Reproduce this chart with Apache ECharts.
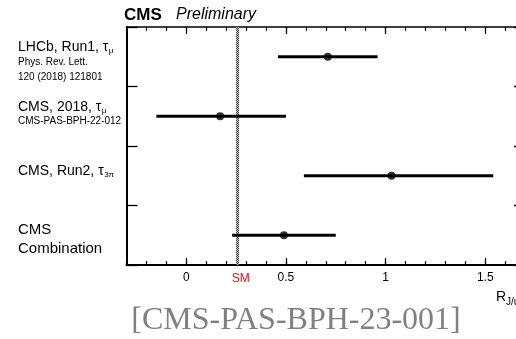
<!DOCTYPE html>
<html>
<head>
<meta charset="utf-8">
<script src="https://cdn.jsdelivr.net/npm/echarts@6/dist/echarts.min.js"></script>
<style>
  html, body { margin: 0; padding: 0; background: #fff; }
  #chart { width: 516px; height: 339px; }
</style>
</head>
<body>
<div id="chart"></div>
<script>
// R(J/psi) measurements: central values with total uncertainty ranges
const categories = ['LHCb, Run1', 'CMS, 2018', 'CMS, Run2', 'CMS Combination'];
const central = [0.71, 0.17, 1.03, 0.49];
const lower = [0.46, -0.15, 0.59, 0.23];
const upper = [0.96, 0.50, 1.54, 0.75];
const smLow = 0.250;
const smHigh = 0.265;
const smValue = 0.258;
const tickLabels = [0, 0.5, 1, 1.5];

// Full frame range (minor ticks every 0.1) and the labelled range (major ticks every 0.5)
const frameMin = -0.3, frameMax = 1.7, minorStep = 0.1;
const majorMin = 0, majorMax = 1.5, majorStep = 0.5;

// Row captions: main line (with Greek subscript) and reference lines
const rowTitles = ['LHCb, Run1, τ', 'CMS, 2018, τ', 'CMS, Run2, τ', 'CMS'];
const rowSubs = ['μ', 'μ', '3π', ''];
const rowNotes = [['Phys. Rev. Lett.', '120 (2018) 121801'], ['CMS-PAS-BPH-22-012'], [], ['Combination']];

const FONT = 'Liberation Sans, Arial, Helvetica, sans-serif';
const PX_PER_UNIT = 199.3;
const FRAME_LEFT = 126.5, FRAME_TOP = 27, FRAME_H = 238;

const chart = echarts.init(document.getElementById('chart'), null, { renderer: 'canvas' });

function frameX(position, lineWidth) {
  return {
    type: 'value', gridIndex: 0, position: position, min: frameMin, max: frameMax, interval: minorStep,
    axisLine: { show: true, onZero: false, lineStyle: { color: '#000', width: lineWidth } },
    axisTick: { show: true, inside: true, length: 4, lineStyle: { color: '#000', width: 1.2 } },
    axisLabel: { show: false },
    splitLine: { show: false }
  };
}
function majorX(position, showLabel) {
  return {
    type: 'value', gridIndex: 1, position: position, min: majorMin, max: majorMax, interval: majorStep,
    axisLine: { show: false, onZero: false },
    axisTick: { show: true, inside: true, length: 7, lineStyle: { color: '#000', width: 1.2 } },
    axisLabel: showLabel
      ? { show: true, color: '#000', fontSize: 12, fontFamily: FONT, margin: 7, showMinLabel: true, showMaxLabel: true }
      : { show: false },
    splitLine: { show: false }
  };
}
function catY(position) {
  return {
    type: 'category', gridIndex: 0, position: position, data: categories, inverse: true,
    axisLine: { show: true, onZero: false, lineStyle: { color: '#000', width: 2 } },
    axisTick: { show: true, inside: true, length: 11, lineStyle: { color: '#000', width: 1.3 } },
    axisLabel: { show: false },
    splitLine: { show: false }
  };
}

const option = {
  animation: false,
  grid: [
    { left: FRAME_LEFT, top: FRAME_TOP, width: (frameMax - frameMin) * PX_PER_UNIT, height: FRAME_H,
      containLabel: false, outerBoundsMode: 'none' },
    { left: FRAME_LEFT + (majorMin - frameMin) * PX_PER_UNIT, top: FRAME_TOP,
      width: (majorMax - majorMin) * PX_PER_UNIT, height: FRAME_H, containLabel: false, outerBoundsMode: 'none' }
  ],
  xAxis: [
    frameX('bottom', 2),
    frameX('top', 1.5),
    majorX('bottom', true),
    majorX('top', false)
  ],
  yAxis: [
    catY('left'),
    catY('right'),
    { type: 'value', gridIndex: 1, show: false }
  ],
  series: [
    {
      type: 'custom',
      xAxisIndex: 0, yAxisIndex: 0,
      data: categories.map((c, i) => [lower[i], upper[i], i]),
      renderItem: function (params, api) {
        const a = api.coord([api.value(0), api.value(2)]);
        const b = api.coord([api.value(1), api.value(2)]);
        return {
          type: 'line',
          shape: { x1: a[0], y1: a[1], x2: b[0], y2: b[1] },
          style: { stroke: '#000', lineWidth: 3 }
        };
      },
      z: 3
    },
    {
      type: 'scatter',
      xAxisIndex: 0, yAxisIndex: 0,
      data: categories.map((c, i) => [central[i], i]),
      symbol: 'circle',
      symbolSize: 8,
      itemStyle: { color: '#000' },
      z: 4
    }
  ]
};
chart.setOption(option);

// Hatched fill for the SM band
const hatch = document.createElement('canvas');
hatch.width = 2; hatch.height = 2;
const hctx = hatch.getContext('2d');
hctx.fillStyle = '#c8c8c8'; hctx.fillRect(0, 0, 2, 2);
hctx.fillStyle = '#3a3a3a'; hctx.fillRect(0, 0, 1, 1); hctx.fillRect(1, 1, 1, 1);

chart.setOption({
  series: [{
    markArea: {
      silent: true,
      itemStyle: { color: { image: hatch, repeat: 'repeat' }, borderWidth: 0 },
      data: [[{ xAxis: smLow }, { xAxis: smHigh }]]
    }
  }]
});

// Text overlays placed from the axis scales
const measureCtx = document.createElement('canvas').getContext('2d');
function textWidth(str, font) { measureCtx.font = font; return measureCtx.measureText(str).width; }

const graphics = [];
function addText(x, y, text, size, opts) {
  graphics.push({
    type: 'text', x: x, y: y, silent: true, z: 10,
    style: Object.assign({
      text: text, fontSize: size, fontFamily: FONT, fill: '#000',
      textAlign: 'left', textVerticalAlign: 'middle'
    }, opts || {})
  });
}

const labelX = 18;
const titleSizes = [14, 14, 14, 15];
const titleOffsets = [-10, -9, -4.5, -5];
const noteSizes = [10, 10, 10, 15];
const noteOffsets = [[5, 20], [4.5], [], [13.5]];
categories.forEach((c, i) => {
  const yc = chart.convertToPixel({ yAxisIndex: 0 }, c);
  const ty = yc + titleOffsets[i];
  addText(labelX, ty, rowTitles[i], titleSizes[i]);
  if (rowSubs[i]) {
    const w = textWidth(rowTitles[i], titleSizes[i] + 'px ' + FONT);
    addText(labelX + w + 0.5, ty + 4, rowSubs[i], 8);
  }
  rowNotes[i].forEach((note, k) => {
    addText(labelX, yc + noteOffsets[i][k], note, noteSizes[i]);
  });
});

// Header
addText(124, 15, 'CMS', 17, { fontWeight: 'bold' });
addText(176, 14.5, 'Preliminary', 16, { fontStyle: 'italic' });

// SM marker label
const smX = chart.convertToPixel({ xAxisIndex: 0 }, smValue);
addText(smX + 3, 279, 'SM', 12, { fill: '#ff0000', textAlign: 'center' });

// Axis title R_J/psi
addText(496, 297, 'R', 14);
addText(506, 302, 'J/ψ', 10);

// Reference tag
addText(296, 321, '[CMS-PAS-BPH-23-001]', 32, {
  fontFamily: 'Liberation Serif, Times New Roman, serif', fill: '#808080', textAlign: 'center'
});

chart.setOption({ graphic: graphics });
</script>
</body>
</html>
